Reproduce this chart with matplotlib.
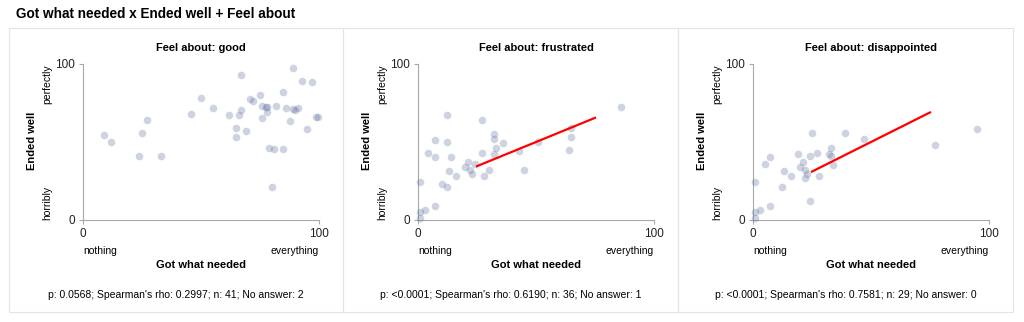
import matplotlib
matplotlib.use("Agg")
import matplotlib.pyplot as plt
from matplotlib.patches import Rectangle

plt.rcParams['font.family'] = ['Liberation Sans', 'DejaVu Sans']

# data
good_x = [8.9, 11.9, 23.9, 24.9, 27.0, 32.9, 45.9, 50.0, 54.9, 62.0, 64.8, 64.8, 66.0, 67.0,
          67.0, 68.9, 70.9, 71.9, 75.0, 75.8, 75.8, 77.5, 78.0, 78.0, 79.0, 79.9, 80.9, 81.9,
          84.9, 84.9, 85.9, 87.9, 88.8, 88.8, 90.0, 91.0, 92.9, 94.9, 96.9, 98.9, 99.7]
good_y = [54.3, 50.0, 41.2, 56.0, 64.1, 41.2, 67.9, 78.0, 72.0, 67.1, 59.2, 53.0, 67.1, 70.3,
          93.2, 57.1, 77.4, 76.3, 80.1, 73.1, 65.2, 72.2, 72.2, 69.0, 46.2, 21.2, 45.3, 73.1,
          82.3, 45.3, 72.0, 63.2, 97.2, 71.4, 70.3, 72.0, 89.1, 58.3, 88.2, 66.2, 66.2]

frus_x = [1.0, 1.0, 1.0, 3.1, 4.1, 7.1, 7.1, 7.1, 10.0, 12.1, 12.1, 12.1, 13.1, 14.1, 16.1,
          20.1, 21.0, 22.0, 23.0, 24.0, 27.0, 27.0, 28.0, 30.1, 32.1, 32.1, 32.1, 33.1, 36.2,
          42.9, 45.1, 51.0, 64.0, 65.0, 65.0, 85.9]
frus_y = [24.1, 5.3, 1.1, 6.2, 43.2, 51.3, 40.2, 9.2, 23.3, 67.1, 50.0, 21.2, 31.2, 40.2, 28.2,
          34.2, 37.2, 32.3, 29.3, 36.1, 64.1, 43.2, 28.2, 32.3, 55.1, 52.1, 42.1, 46.2, 49.1,
          44.2, 32.3, 50.2, 45.1, 53.2, 59.2, 72.2]

disa_x = [1.0, 1.0, 1.0, 3.1, 5.1, 7.1, 7.1, 12.1, 13.1, 16.1, 19.1, 20.1, 21.0, 22.0, 22.0,
          23.0, 24.0, 24.0, 25.0, 27.0, 28.0, 32.1, 33.1, 33.1, 34.0, 39.0, 47.0, 77.0, 95.1]
disa_y = [24.1, 5.3, 1.1, 6.2, 36.1, 40.2, 9.2, 21.2, 31.2, 28.2, 42.1, 34.2, 37.2, 32.3, 27.1,
          29.3, 41.0, 12.2, 56.0, 43.2, 28.2, 42.1, 46.2, 41.2, 35.3, 56.0, 52.1, 48.1, 58.1]

feel = ['good', 'frustrated', 'disappointed']
p_vals = ['0.0568', '<0.0001', '<0.0001']
rho = [0.2997, 0.6190, 0.7581]
n = [41, 36, 29]
no_answer = [2, 1, 0]
show_line = [False, True, True]
xs = [good_x, frus_x, disa_x]
ys = [good_y, frus_y, disa_y]

W, H = 1024, 322
fig = plt.figure(figsize=(W / 100, H / 100), dpi=100)

def fx(px):
    return px / W

def fy(py):
    return 1 - py / H

fig.text(fx(16), fy(14), 'Got what needed x Ended well + Feel about', fontsize=9.8,
         fontweight='bold', ha='left', va='center')

panel_left = [9, 343, 678]
panel_right = [343, 678, 1013]
axes_left = [83, 418, 753]
ax_w = 236
ax_top, ax_bot = 64, 220
dot_col = '#5d6f9f'
grey = '#a8a8a8'

for i in range(3):
    fig.patches.append(Rectangle((fx(panel_left[i]), fy(312)),
                                 fx(panel_right[i] - panel_left[i]), (312 - 28) / H,
                                 transform=fig.transFigure, fill=False,
                                 edgecolor='#e4e4e4', lw=0.8))
    ax = fig.add_axes([fx(axes_left[i]), fy(ax_bot), ax_w / W, (ax_bot - ax_top) / H])
    ax.scatter(xs[i], ys[i], s=30, color=dot_col, alpha=0.3, linewidths=0, clip_on=False,
               zorder=3)
    if show_line[i]:
        lx = [25, 75]
        ly = [50 + rho[i] * (v - 50) for v in lx]
        ax.plot(lx, ly, color='#ff0000', lw=1.6, zorder=4)
    ax.set_xlim(0, 100)
    ax.set_ylim(0, 100)
    ax.set_xticks([0, 100])
    ax.set_yticks([0, 100])
    ax.tick_params(labelsize=8.5, colors=grey, labelcolor='#222222', length=3, width=0.8,
                   pad=3)
    for s in ['top', 'right']:
        ax.spines[s].set_visible(False)
    for s in ['left', 'bottom']:
        ax.spines[s].set_color(grey)
        ax.spines[s].set_linewidth(0.8)

    cx = axes_left[i] + ax_w / 2
    fig.text(fx(cx), fy(48), 'Feel about: ' + feel[i], fontsize=8, fontweight='bold',
             ha='center', va='center')
    fig.text(fx(axes_left[i]), fy(251), 'nothing', fontsize=7.5, ha='left', va='center')
    fig.text(fx(axes_left[i] + ax_w), fy(251), 'everything', fontsize=7.5, ha='right',
             va='center')
    fig.text(fx(cx), fy(265), 'Got what needed', fontsize=8, fontweight='bold',
             ha='center', va='center')
    lab_x = axes_left[i] - 51
    fig.text(fx(lab_x), fy(141), 'Ended well', fontsize=8, fontweight='bold',
             rotation=90, ha='center', va='center')
    fig.text(fx(lab_x + 15), fy(ax_top), 'perfectly', fontsize=7.5, rotation=90,
             ha='center', va='top')
    fig.text(fx(lab_x + 15), fy(ax_bot), 'horribly', fontsize=7.5, rotation=90,
             ha='center', va='bottom')
    footer = "p: %s; Spearman's rho: %.4f; n: %d; No answer: %d" % (
        p_vals[i], rho[i], n[i], no_answer[i])
    fig.text(fx((panel_left[i] + panel_right[i]) / 2), fy(295), footer, fontsize=7.5,
             ha='center', va='center')

fig.savefig('out.png', dpi=100)
